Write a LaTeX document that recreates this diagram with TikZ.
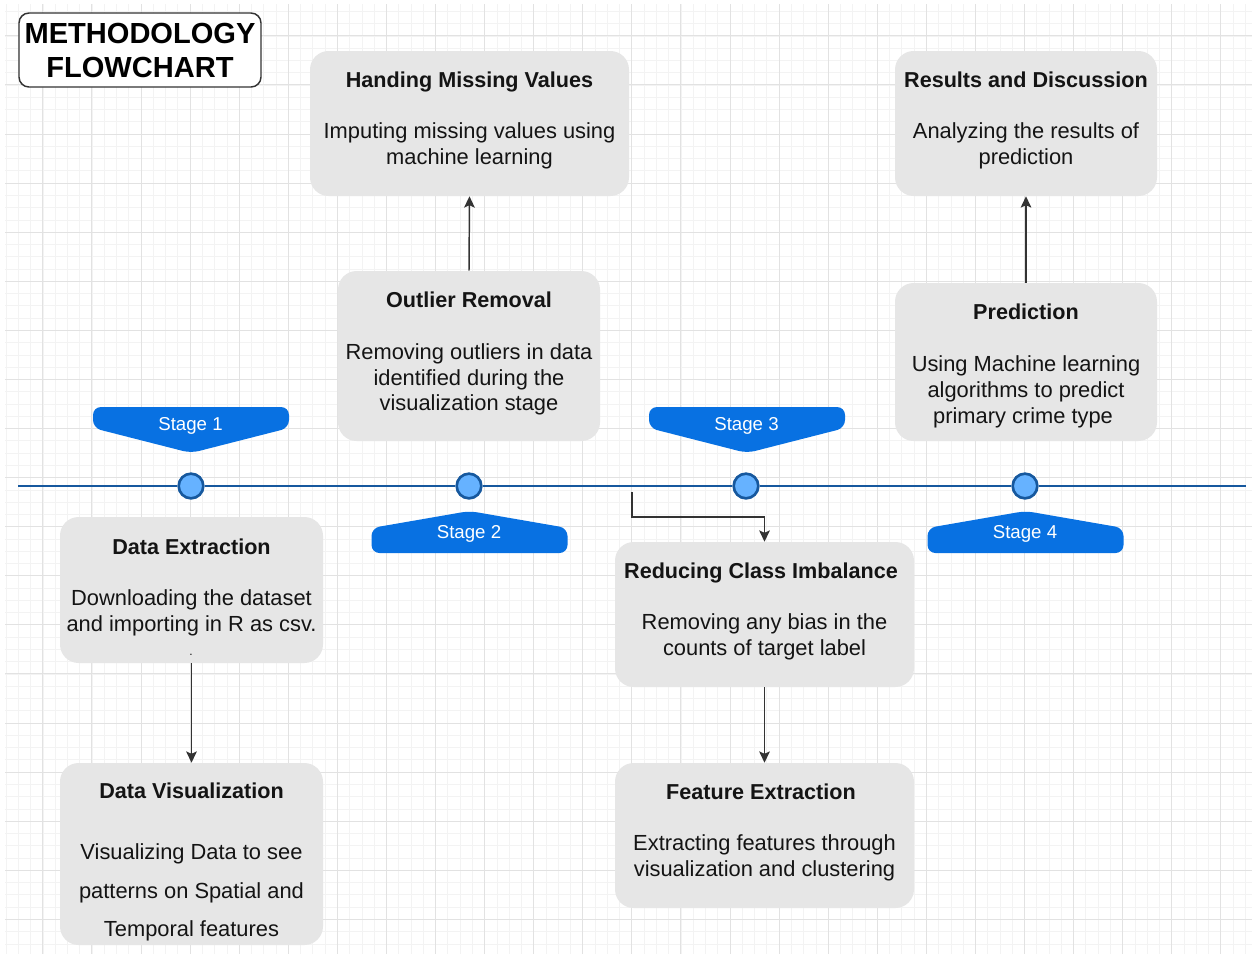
\documentclass[tikz,border=0pt]{standalone}
\usepackage{fontspec}
\setmainfont{Liberation Sans}
\usetikzlibrary{arrows.meta}
\definecolor{gridminor}{RGB}{243,243,243}
\definecolor{gridmajor}{RGB}{226,226,226}
\definecolor{boxfill}{RGB}{230,230,230}
\definecolor{tline}{RGB}{22,88,158}
\definecolor{dotfill}{RGB}{102,178,255}
\definecolor{stageblue}{RGB}{8,113,226}
\definecolor{arrowgray}{RGB}{51,51,51}
\definecolor{txt}{RGB}{20,20,20}
\begin{document}
\begin{tikzpicture}[x=0.75pt,y=-0.75pt,
  box/.style={draw=none, fill=boxfill, rounded corners=14pt, inner sep=0pt},
  hdr/.style={font=\bfseries\fontsize{16.2}{19}\selectfont, anchor=base, inner sep=0pt, text=txt},
  bod/.style={font=\fontsize{16.4}{19.5}\selectfont, anchor=base, inner sep=0pt, text=txt},
  stg/.style={fill=stageblue, draw=none, rounded corners=6pt},
  stgtxt/.style={font=\fontsize{14}{16}\selectfont, text=white, anchor=base, inner sep=0pt},
  tdot/.style={circle, fill=dotfill, draw=tline, line width=2pt, minimum size=18.5pt, inner sep=0pt},
  tl/.style={draw=tline, line width=1.6pt},
  arr/.style={draw=arrowgray, line width=1.1pt, -{Stealth[length=8.5pt,width=8pt,inset=1.8pt]}},
  titlebox/.style={draw=black!80, line width=1.1pt, fill=white, rounded corners=7.5pt, align=center, font=\bfseries\fontsize{21.8}{25.5}\selectfont, inner sep=0pt}
]
% canvas
\useasboundingbox (0,0) rectangle (1252,954);
\fill[white] (0,0) rectangle (1252,954);
\begin{scope}
\clip (5,4) rectangle (1252,954);
\foreach \i in {0,...,101} {
  \pgfmathsetmacro\gx{6.1+12.27*\i}
  \draw[gridminor, line width=0.6pt] (\gx,4) -- (\gx,954);
}
\foreach \j in {0,...,78} {
  \pgfmathsetmacro\gy{-0.9+12.27*\j}
  \draw[gridminor, line width=0.6pt] (5,\gy) -- (1252,\gy);
}
\foreach \i in {0,...,25} {
  \pgfmathsetmacro\gx{42.9+49.08*\i}
  \draw[gridmajor, line width=0.75pt] (\gx,4) -- (\gx,954);
}
\foreach \j in {0,...,19} {
  \pgfmathsetmacro\gy{35.9+49.08*\j}
  \draw[gridmajor, line width=0.75pt] (5,\gy) -- (1252,\gy);
}
\end{scope}

% title
\node[titlebox, minimum width=0.75*242pt, minimum height=0.75*74pt] (title) at (140,50) {METHODOLOGY\\FLOWCHART};

% boxes
\node[box, minimum width=0.75*319pt, minimum height=0.75*145pt] (hmv) at (469.5,123.5) {};
\node[box, minimum width=0.75*262pt, minimum height=0.75*170pt] (outl) at (469,356) {};
\node[box, minimum width=0.75*262pt, minimum height=0.75*145pt] (res) at (1026,123.5) {};
\node[box, minimum width=0.75*262pt, minimum height=0.75*158pt] (pred) at (1026,362) {};
\node[box, minimum width=0.75*263pt, minimum height=0.75*146pt] (dext) at (191.5,590) {};
\node[box, minimum width=0.75*263pt, minimum height=0.75*182pt] (dvis) at (191.5,854) {};
\node[box, minimum width=0.75*299pt, minimum height=0.75*145pt] (rci) at (764.5,614.5) {};
\node[box, minimum width=0.75*299pt, minimum height=0.75*145pt] (fext) at (764.5,835.5) {};

% texts
\node[hdr] (hmv-h) at (469.5,87) {Handing Missing Values};
\node[bod] (hmv-b1) at (469.5,138) {Imputing missing values using};
\node[bod] (hmv-b2) at (469.5,164) {machine learning};

\node[hdr] (outl-h) at (469,307) {Outlier Removal};
\node[bod] (outl-b1) at (469,359) {Removing outliers in data};
\node[bod] (outl-b2) at (469,385) {identified during the};
\node[bod] (outl-b3) at (469,410) {visualization stage};

\node[hdr] (res-h) at (1026,87) {Results and Discussion};
\node[bod] (res-b1) at (1026,138) {Analyzing the results of};
\node[bod] (res-b2) at (1026,164) {prediction};

\node[hdr] (pred-h) at (1026,319) {Prediction};
\node[bod] (pred-b1) at (1026,371) {Using Machine learning};
\node[bod] (pred-b2) at (1026,397) {algorithms to predict};
\node[bod] (pred-b3) at (1023,423) {primary crime type};

\node[hdr] (dext-h) at (191.5,554) {Data Extraction};
\node[bod] (dext-b1) at (191.5,605) {Downloading the dataset};
\node[bod] (dext-b2) at (191.5,631) {and importing in R as csv.};
\node[bod, font=\fontsize{9}{10}\selectfont] (dext-b3) at (191,655) {.};

\node[hdr] (dvis-h) at (191.5,798) {Data Visualization};
\node[bod] (dvis-b1) at (191.5,859) {Visualizing Data to see};
\node[bod] (dvis-b2) at (191.5,898) {patterns on Spatial and};
\node[bod] (dvis-b3) at (191.5,936) {Temporal features};

\node[hdr] (rci-h) at (761,578) {Reducing Class Imbalance};
\node[bod] (rci-b1) at (764.5,629) {Removing any bias in the};
\node[bod] (rci-b2) at (764.5,655) {counts of target label};

\node[hdr] (fext-h) at (761,799) {Feature Extraction};
\node[bod] (fext-b1) at (764.5,850) {Extracting features through};
\node[bod] (fext-b2) at (764.5,876) {visualization and clustering};

% stage banners
\path[stg] (93,407) -- (289,407) -- (289,428) -- (191,453) -- (93,428) -- cycle;
\path[stg] (649,407) -- (845,407) -- (845,428) -- (747,453) -- (649,428) -- cycle;
\path[stg] (469.5,511) -- (567.5,528) -- (567.5,553) -- (371.5,553) -- (371.5,528) -- cycle;
\path[stg] (1025.5,511) -- (1123.5,528) -- (1123.5,553) -- (927.5,553) -- (927.5,528) -- cycle;
\node[stgtxt] (s1) at (190.5,430.5) {Stage 1};
\node[stgtxt] (s3) at (746.5,430.5) {Stage 3};
\node[stgtxt] (s2) at (469,538.5) {Stage 2};
\node[stgtxt] (s4) at (1025,538.5) {Stage 4};

% timeline
\coordinate (tlL) at (18,486);
\coordinate (tlR) at (1246,486);
\node[tdot] (c1) at (191,486) {};
\node[tdot] (c2) at (469,486) {};
\node[tdot] (c3) at (746,486) {};
\node[tdot] (c4) at (1025,486) {};
\draw[tl] (tlL) -- (c1) -- (c2) -- (c3) -- (c4) -- (tlR);

% connectors
\draw[arr] (outl.north) -- (hmv.south);
\draw[arr] (pred.north) -- (res.south);
\draw[arr] (dext.south) -- (dvis.north);
\draw[arr] (rci.south) -- (fext.north);
\coordinate (e1) at (632,492);
\coordinate (e2) at (632,517);
\draw[arr, rounded corners=0pt] (e1) -- (e2) -| (rci.north);
\end{tikzpicture}
\end{document}
